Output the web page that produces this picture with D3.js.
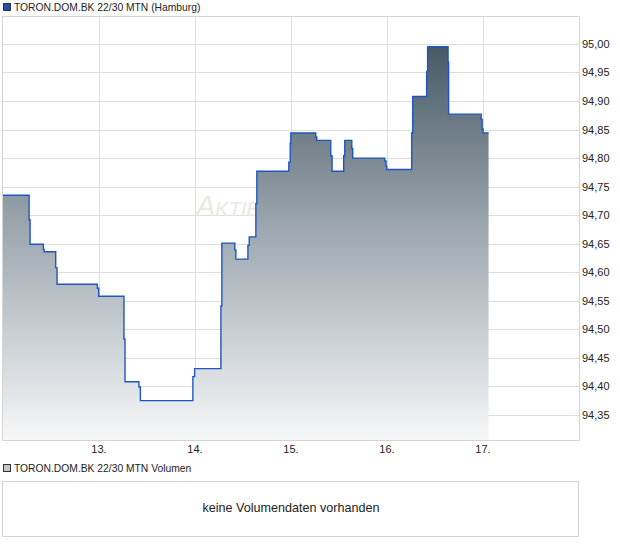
<!DOCTYPE html>
<meta charset="utf-8">
<script src="https://cdn.jsdelivr.net/npm/d3@7"></script>
<style>
  body { margin: 0; background: #fff; }
  text { font-family: "Liberation Sans", Arial, sans-serif; }
</style>
<div id="chart"></div>

<script>
  // price series (day of month, price) - step line
  var days = [12.000, 12.272, 12.282, 12.421, 12.428, 12.549, 12.563, 12.983, 12.997,
    13.260, 13.271, 13.416, 13.431, 13.978, 13.996, 14.270, 14.280, 14.415, 14.426,
    14.551, 14.565, 14.634, 14.644, 14.977, 14.992, 14.998, 15.258, 15.268, 15.414,
    15.428, 15.549, 15.560, 15.633, 15.643, 15.976, 15.990, 15.997, 16.257, 16.268,
    16.413, 16.423, 16.636, 16.642, 16.981, 16.991, 17.001, 17.058];
  var prices = [94.735, 94.692, 94.649, 94.640, 94.636, 94.608, 94.579, 94.572, 94.558,
    94.483, 94.408, 94.399, 94.375, 94.417, 94.431, 94.541, 94.651, 94.639, 94.623,
    94.647, 94.662, 94.720, 94.777, 94.793, 94.826, 94.844, 94.837, 94.831, 94.804,
    94.777, 94.804, 94.831, 94.817, 94.800, 94.795, 94.786, 94.780, 94.844, 94.908,
    94.952, 94.995, 94.968, 94.877, 94.868, 94.851, 94.844, 94.844];
  var xTicks = [13, 14, 15, 16, 17];
  var yTicks = [94.35, 94.40, 94.45, 94.50, 94.55, 94.60, 94.65, 94.70, 94.75,
    94.80, 94.85, 94.90, 94.95, 95.00];

  var data = days.map(function (d, i) { return { day: d, price: prices[i] }; });

  var W = 620, H = 546;
  var plot = { left: 3, right: 579, top: 16, bottom: 440 };

  var svg = d3.select("#chart").append("svg")
    .attr("width", W).attr("height", H);

  var x = d3.scaleLinear().domain([12, 18]).range([plot.left, plot.right]);
  var y = d3.scaleLinear().domain([94.306, 95.049]).range([plot.bottom, plot.top]);

  // gradient for the area
  var grad = svg.append("defs").append("linearGradient")
    .attr("id", "fillGrad")
    .attr("gradientUnits", "userSpaceOnUse")
    .attr("x1", 0).attr("x2", 0)
    .attr("y1", y(d3.max(prices))).attr("y2", plot.bottom);
  grad.append("stop").attr("offset", "0%").attr("stop-color", "#485a67");
  grad.append("stop").attr("offset", "45%").attr("stop-color", "#9aa5ad");
  grad.append("stop").attr("offset", "100%").attr("stop-color", "#f6f7f8");

  // legend top
  svg.append("rect").attr("x", 3.5).attr("y", 3.5).attr("width", 7).attr("height", 7)
    .attr("fill", "#1f4fb0").attr("stroke", "#333").attr("stroke-width", 1);
  svg.append("text").attr("x", 14).attr("y", 11)
    .style("font-size", "10.3px").attr("fill", "#222")
    .text("TORON.DOM.BK 22/30 MTN (Hamburg)");

  // grid
  svg.append("g").selectAll("line.h").data(yTicks).enter().append("line")
    .attr("x1", plot.left).attr("x2", plot.right)
    .attr("y1", function (d) { return Math.round(y(d)) + 0.5; })
    .attr("y2", function (d) { return Math.round(y(d)) + 0.5; })
    .attr("stroke", "#dcdcdc");
  svg.append("g").selectAll("line.v").data(xTicks).enter().append("line")
    .attr("y1", plot.top).attr("y2", plot.bottom)
    .attr("x1", function (d) { return Math.round(x(d)) + 0.5; })
    .attr("x2", function (d) { return Math.round(x(d)) + 0.5; })
    .attr("stroke", "#dcdcdc");

  // watermark
  svg.append("text").attr("x", 196).attr("y", 216)
    .style("font-size", "29px").style("font-style", "italic")
    .style("font-variant", "small-caps").attr("fill", "#ece7e1")
    .text("Aktiencheck.de");

  // area + step line
  var area = d3.area().curve(d3.curveStepAfter)
    .x(function (d) { return x(d.day); })
    .y0(plot.bottom)
    .y1(function (d) { return y(d.price); });
  var line = d3.line().curve(d3.curveStepAfter)
    .x(function (d) { return x(d.day); })
    .y(function (d) { return y(d.price); });

  svg.append("path").datum(data).attr("d", area).attr("fill", "url(#fillGrad)");
  svg.append("path").datum(data).attr("d", line)
    .attr("fill", "none").attr("stroke", "#1f55c2").attr("stroke-width", 1.4);

  // frame
  svg.append("rect").attr("x", plot.left - 0.5).attr("y", plot.top + 0.5)
    .attr("width", plot.right - plot.left + 1).attr("height", plot.bottom - plot.top)
    .attr("fill", "none").attr("stroke", "#d4d4d4");

  // y labels on the right
  svg.append("g").selectAll("text").data(yTicks).enter().append("text")
    .attr("x", 582).attr("y", function (d) { return y(d) + 4; })
    .style("font-size", "11px").attr("fill", "#222")
    .text(function (d) { return d3.format(".2f")(d).replace(".", ","); });

  // x labels
  svg.append("g").selectAll("text").data(xTicks).enter().append("text")
    .attr("x", function (d) { return x(d); }).attr("y", 453)
    .attr("text-anchor", "middle")
    .style("font-size", "11px").attr("fill", "#222")
    .text(function (d) { return d + "."; });

  // volume panel
  svg.append("rect").attr("x", 3.5).attr("y", 464.5).attr("width", 7).attr("height", 7)
    .attr("fill", "#c8c8c8").attr("stroke", "#333").attr("stroke-width", 1);
  svg.append("text").attr("x", 14).attr("y", 472)
    .style("font-size", "10.3px").attr("fill", "#222")
    .text("TORON.DOM.BK 22/30 MTN Volumen");
  svg.append("rect").attr("x", 2.5).attr("y", 481.5).attr("width", 576).attr("height", 55)
    .attr("fill", "none").attr("stroke", "#d4d4d4");
  svg.append("text").attr("x", 291).attr("y", 512)
    .attr("text-anchor", "middle")
    .style("font-size", "12.6px").attr("fill", "#222")
    .text("keine Volumendaten vorhanden");
</script>
